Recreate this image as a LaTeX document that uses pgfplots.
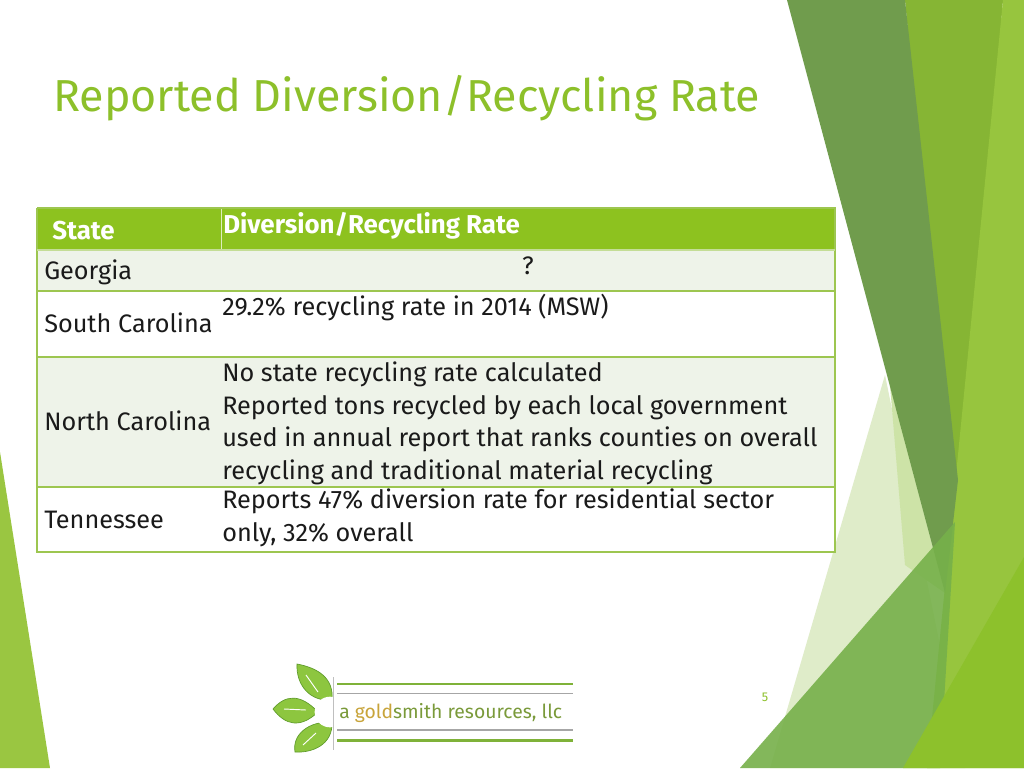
\documentclass[border=0pt]{standalone}
\usepackage{fontspec}
\setmainfont{Fira Sans}
\usepackage{pgfplots}
\pgfplotsset{compat=1.18}
\definecolor{ttl}{HTML}{8DC02A}
\definecolor{hdr}{HTML}{8DC21F}
\definecolor{tb}{HTML}{9DC650}
\definecolor{rowl}{HTML}{EEF3E9}
\definecolor{dk}{HTML}{709C4D}
\definecolor{md}{HTML}{86B534}
\definecolor{lt}{HTML}{97C53E}
\definecolor{pale}{HTML}{DFECC9}
\definecolor{pale2}{HTML}{CDE3A7}
\definecolor{big}{HTML}{76B04A}
\definecolor{br}{HTML}{8DC12C}
\definecolor{lft}{HTML}{9AC641}
\definecolor{leaf}{HTML}{8DC63F}
\definecolor{leafd}{HTML}{5E9B2A}
\definecolor{logot}{HTML}{7A9A3A}
\definecolor{gold}{HTML}{C8A43A}
\definecolor{txt}{HTML}{1A1A1A}
\newcommand{\tsz}{\fontsize{18.95}{22}\selectfont}
\newcommand{\hsz}{\fontsize{19.4}{22}\selectfont}
\begin{document}
\begin{tikzpicture}
\begin{axis}[
  width=768pt, height=576pt, scale only axis,
  xmin=0, xmax=1024, ymin=0, ymax=768, y dir=reverse,
  hide axis, clip=true,
]
% background
\addplot[fill=white, draw=none] coordinates {(0,0) (1024,0) (1024,768) (0,768)};
% decorative shapes
\addplot[fill=lft, draw=none] coordinates {(0,452) (50,768) (0,768)};
\addplot[fill=pale, draw=none] coordinates {(885,375) (965,768) (770,768)};
\addplot[fill=pale2, draw=none] coordinates {(890,385) (945,593) (905,565)};
\addplot[fill=md, draw=none] coordinates {(905,0) (1003,0) (958,560)};
\addplot[fill=lt, draw=none] coordinates {(1003,0) (1024,0) (1024,768) (927,768)};
\addplot[fill=dk, draw=none] coordinates {(787,0) (905,0) (958,480) (945,593)};
\addplot[fill=big, fill opacity=0.9, draw=none] coordinates {(740,768) (955,522) (940,768)};
\addplot[fill=br, draw=none] coordinates {(903,768) (1024,557) (1024,768)};
% table
\addplot[fill=hdr, draw=none] coordinates {(37,208) (835,208) (835,250) (37,250)};
\addplot[fill=rowl, draw=none] coordinates {(37,250) (835,250) (835,291) (37,291)};
\addplot[fill=white, draw=none] coordinates {(37,291) (835,291) (835,357) (37,357)};
\addplot[fill=rowl, draw=none] coordinates {(37,357) (835,357) (835,487) (37,487)};
\addplot[fill=white, draw=none] coordinates {(37,487) (835,487) (835,552) (37,552)};
\addplot[draw=white!70!hdr, line width=0.6pt] coordinates {(221,208) (221,250)};
\addplot[draw=tb, line width=1.1pt] coordinates {(37,208) (835,208) (835,552) (37,552) (37,208)};
\addplot[draw=tb, line width=1.1pt] coordinates {(37,291) (835,291)};
\addplot[draw=tb, line width=1.1pt] coordinates {(37,357) (835,357)};
\addplot[draw=tb, line width=1.1pt] coordinates {(37,487) (835,487)};
\addplot[draw=white!40!tb, line width=0.8pt] coordinates {(37,250) (835,250)};
% title
\node[anchor=base west, inner sep=0pt, text=ttl, font=\fontsize{33.6}{38}\selectfont] at (axis cs:53,111) {Reported Diversion/Recycling Rate};
% header
\node[anchor=base west, inner sep=0pt, text=white, font=\hsz\bfseries] at (axis cs:52,239) {State};
\node[anchor=base west, inner sep=0pt, text=white, font=\hsz\bfseries] at (axis cs:223,233) {Diversion/Recycling Rate};
% body
\begin{scope}[every node/.style={anchor=base west, inner sep=0pt, text=txt, font=\tsz}]
\node at (axis cs:44,279.5) {Georgia};
\node[anchor=base] at (axis cs:528,274) {?};
\node at (axis cs:44,332.7) {South Carolina};
\node at (axis cs:222,315) {29.2\% recycling rate in 2014 (MSW)};
\node at (axis cs:44,430) {North Carolina};
\node at (axis cs:222,381.7) {No state recycling rate calculated};
\node at (axis cs:222,414) {Reported tons recycled by each local government};
\node at (axis cs:222,446.5) {used in annual report that ranks counties on overall};
\node at (axis cs:222,479) {recycling and traditional material recycling};
\node at (axis cs:44,528.3) {Tennessee};
\node at (axis cs:222,508.3) {Reports 47\% diversion rate for residential sector};
\node at (axis cs:222,541.7) {only, 32\% overall};
\end{scope}
% page number
\node[anchor=base, inner sep=0pt, text=ttl, font=\fontsize{9.5}{10}\selectfont] at (axis cs:765,701) {5};
% logo
\addplot[draw=leaf!90!black, line width=2pt] coordinates {(337,684) (573,684)};
\addplot[draw=leaf!90!black, line width=2pt] coordinates {(337,740.7) (573,740.7)};
\addplot[draw=gray!70, line width=0.8pt] coordinates {(337,693.7) (573,693.7)};
\addplot[draw=gray!70, line width=0.8pt] coordinates {(337,730) (573,730)};
\filldraw[fill=leaf, draw=leafd, line width=0.5pt] (axis cs:332,700) .. controls (axis cs:310,702) and (axis cs:296,685) .. (axis cs:297,664) .. controls (axis cs:318,668) and (axis cs:334,678) .. (axis cs:332,700) -- cycle;
\filldraw[fill=leaf, draw=leafd, line width=0.5pt] (axis cs:318,712) .. controls (axis cs:300,693) and (axis cs:285,695) .. (axis cs:273,709) .. controls (axis cs:285,725) and (axis cs:300,729) .. (axis cs:318,712) -- cycle;
\filldraw[fill=leaf, draw=leafd, line width=0.5pt] (axis cs:332,722) .. controls (axis cs:333,745) and (axis cs:312,753) .. (axis cs:295,752) .. controls (axis cs:292,735) and (axis cs:308,721) .. (axis cs:332,722) -- cycle;
\draw[white, line width=0.7pt] (axis cs:318,692) -- (axis cs:306,675);
\draw[white, line width=0.7pt] (axis cs:306,710) -- (axis cs:284,709);
\draw[white, line width=0.7pt] (axis cs:316,733) -- (axis cs:303,745);
\fill[white] (axis cs:330,712) circle[radius=11.5pt];
\draw[gray!50, line width=0.6pt] (axis cs:333,677) -- (axis cs:333,750);
\node[anchor=base west, inner sep=0pt, text=logot, font=\fontsize{14.5}{16}\selectfont] at (axis cs:339,718) {a \textcolor{gold}{gold}smith resources, llc};
\end{axis}
\end{tikzpicture}
\end{document}
